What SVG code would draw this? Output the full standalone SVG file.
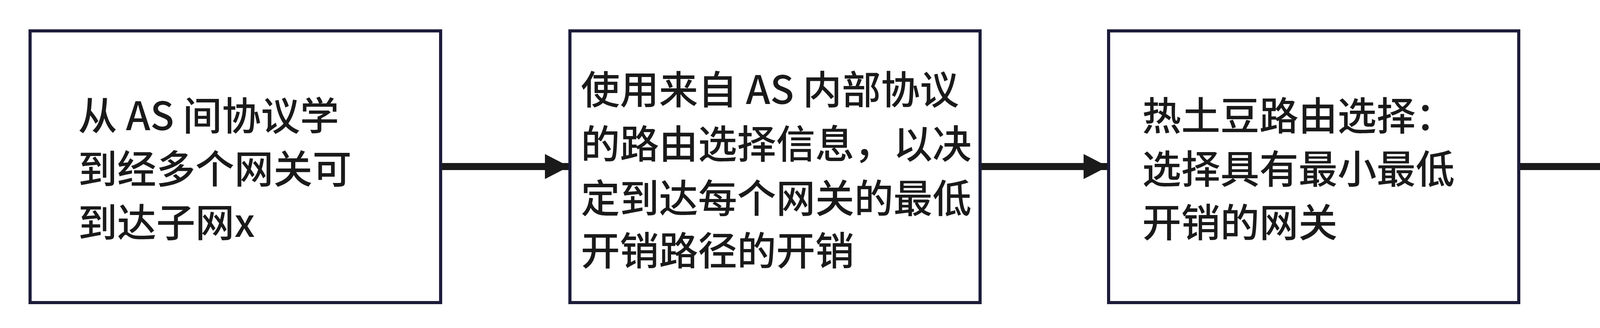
<svg xmlns="http://www.w3.org/2000/svg" width="5324" height="839" viewBox="0 0 5324 839">
<style>
.box{fill:#fff;stroke:#1c1c3a;stroke-width:8}
.t{font-family:"Noto Sans CJK SC","Noto Sans",sans-serif;font-size:100px;font-weight:500;fill:#1a1a1a}
.c{stroke:#1a1a1a;stroke-width:18;fill:none}
</style>
<defs><marker id="ah" markerUnits="userSpaceOnUse" markerWidth="64" markerHeight="64" refX="62" refY="32" orient="auto"><path d="M0,0 L62,32 L0,64 Z" fill="#1a1a1a"/></marker></defs>
<rect width="5324" height="839" fill="#fff"/>
<g id="connectors">
<line class="c" x1="1128" y1="426" x2="1457" y2="426" marker-end="url(#ah)"/>
<line class="c" x1="2509" y1="426" x2="2836" y2="426" marker-end="url(#ah)"/>
<line class="c" x1="3888" y1="426" x2="4200" y2="426" marker-end="url(#ah)"/>
</g>
<g id="n1"><rect class="box" x="77" y="79" width="1051" height="695"/>
<text class="t" x="200" y="333">从 AS 间协议学</text>
<text class="t" x="200" y="469">到经多个网关可</text>
<text class="t" x="200" y="606">到达子网x</text></g>
<g id="n2"><rect class="box" x="1459" y="79" width="1050" height="695"/>
<text class="t" x="1487" y="266">使用来自 AS 内部协议</text>
<text class="t" x="1487" y="405">的路由选择信息，以决</text>
<text class="t" x="1487" y="544">定到达每个网关的最低</text>
<text class="t" x="1487" y="678">开销路径的开销</text></g>
<g id="n3"><rect class="box" x="2838" y="79" width="1050" height="695"/>
<text class="t" x="2924" y="333">热土豆路由选择：</text>
<text class="t" x="2924" y="469">选择具有最小最低</text>
<text class="t" x="2924" y="606">开销的网关</text></g>
<g id="n4"><rect class="box" x="4202" y="79" width="1052" height="695"/>
<text class="t" x="4284" y="266">从转发表确定通往</text>
<text class="t" x="4284" y="405">最低开销网关的接</text>
<text class="t" x="4284" y="544">口I。在转发表中加</text>
<text class="t" x="4284" y="678">入表项 (x, I)</text></g>
</svg>
